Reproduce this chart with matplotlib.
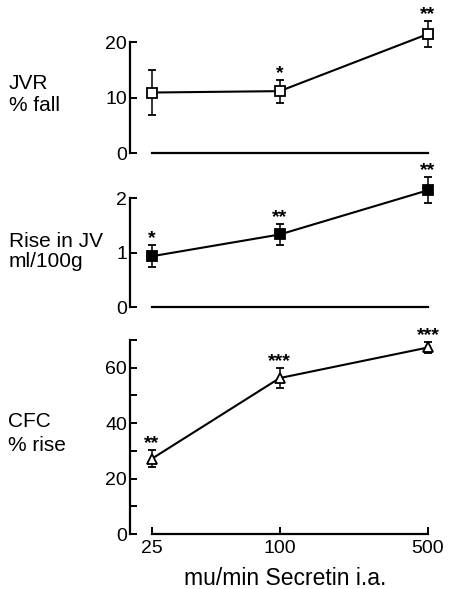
import matplotlib
matplotlib.use("Agg")
import matplotlib.pyplot as plt

plt.rcParams['font.family'] = ['Liberation Sans', 'DejaVu Sans']

# data
dose = [25, 100, 500]
dose_labels = ['25', '100', '500']

jvr_fall = [10.9, 11.15, 21.45]
jvr_err = [4.1, 2.05, 2.35]
jvr_sig = ['', '*', '**']

jv_rise = [0.935, 1.335, 2.15]
jv_err = [0.2, 0.2, 0.24]
jv_sig = ['*', '**', '**']

cfc_rise = [27.2, 56.2, 67.2]
cfc_err = [3.0, 3.7, 2.1]
cfc_sig = ['**', '***', '***']

jvr_ticks = [0, 10, 20]
jv_ticks = [0, 1, 2]
cfc_ticks = [0, 10, 20, 30, 40, 50, 60, 70]
cfc_ticklabels = ['0', '', '20', '', '40', '', '60', '']

W, H = 454, 589
fig = plt.figure(figsize=(W / 100, H / 100), dpi=100)

xlim = (19.7, 569.6)
left, width = 130 / W, 310 / W


def panel(bottom_px, top_px, ylim, ys, errs, sig, marker, face, ticks, ticklabels, ytop):
    ax = fig.add_axes([left, 1 - bottom_px / H, width, (bottom_px - top_px) / H])
    ax.set_xscale('log')
    ax.set_xlim(*xlim)
    ax.set_ylim(*ylim)
    ax.patch.set_alpha(0)
    for s in ['top', 'right']:
        ax.spines[s].set_visible(False)
    ax.spines['left'].set_linewidth(1.6)
    ax.spines['left'].set_bounds(0, ytop)
    ax.set_yticks(ticks)
    ax.set_yticklabels(ticklabels)
    ax.tick_params(axis='y', direction='in', length=5, width=1.4, pad=2, labelsize=14)
    ax.minorticks_off()
    ax.errorbar(dose, ys, yerr=errs, color='black', lw=1.5, marker=marker,
                mfc=face, mec='black', mew=1.3, ms=6.5, capsize=3, elinewidth=1.1,
                capthick=1.1, zorder=3)
    for x, y, e, s in zip(dose, ys, errs, sig):
        if s:
            ax.annotate(s, (x, y + e), xytext=(0, -1.5), textcoords='offset points',
                        ha='center', va='bottom', fontsize=14, fontweight='bold',
                        annotation_clip=False)
    return ax


ax1 = panel(153, 14.3, (0, 25), jvr_fall, jvr_err, jvr_sig, 's', 'white',
            jvr_ticks, ['0', '10', '20'], 20)
ax1.spines['bottom'].set_visible(False)
ax1.set_xticks([])
ax1.plot([dose[0], dose[-1]], [0, 0], color='black', lw=1.6, clip_on=False)

ax2 = panel(307, 165.8, (0, 2.6), jv_rise, jv_err, jv_sig, 's', 'black',
            jv_ticks, ['0', '1', '2'], 2)
ax2.spines['bottom'].set_visible(False)
ax2.set_xticks([])
ax2.plot([dose[0], dose[-1]], [0, 0], color='black', lw=1.6, clip_on=False)

ax3 = panel(534.3, 325.8, (0, 75), cfc_rise, cfc_err, cfc_sig, '^', 'white',
            cfc_ticks, cfc_ticklabels, 70)
ax3.spines['bottom'].set_bounds(dose[0], dose[-1])
ax3.spines['bottom'].set_linewidth(1.6)
ax3.set_xticks(dose)
ax3.set_xticklabels(dose_labels)
ax3.minorticks_off()
ax3.tick_params(axis='x', direction='in', length=5, width=1.4, pad=4, labelsize=14)
ax3.set_xlabel('mu/min Secretin i.a.', fontsize=16.5, labelpad=7)

fig.text(9 / W, 1 - 94.5 / H, 'JVR\n% fall', fontsize=15, va='center', ha='left', linespacing=1.2)
fig.text(9 / W, 1 - 251.5 / H, 'Rise in JV\nml/100g', fontsize=15, va='center', ha='left', linespacing=1.03)
fig.text(8 / W, 1 - 433.5 / H, 'CFC\n% rise', fontsize=15, va='center', ha='left', linespacing=1.34)

fig.savefig('out.png', dpi=100)
